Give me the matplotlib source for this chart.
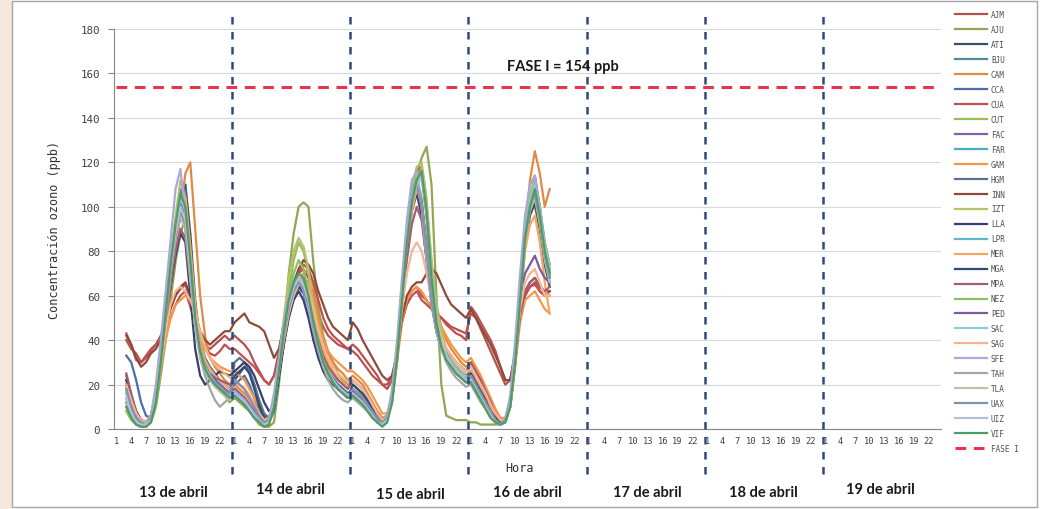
import numpy as np
import matplotlib
matplotlib.use("Agg")
import matplotlib.pyplot as plt
import matplotlib.transforms as mtransforms
from matplotlib.patches import Rectangle

n = np.nan

# hourly ozone (ppb), 13-16 abril, 24 values per day
AJM = [n, n, 43, 38, 31, 30, 33, 36, 38, 42, 48, 55, 60, 63, 65, 58, 50, 42, 38, 36, 38, 40, 42, 40,
       42, 40, 38, 35, 30, 26, 22, 20, 24, 35, 48, 58, 66, 70, 72, 68, 60, 52, 46, 42, 40, 38, 37, 36,
       38, 36, 33, 30, 27, 24, 20, 18, 22, 34, 50, 58, 62, 64, 60, 58, 55, 52, 50, 48, 46, 45, 44, 43,
       52, 50, 45, 40, 35, 30, 25, 20, 22, 35, 50, 60, 64, 66, 62, 60, 60, n, n, n, n, n, n, n]
AJU = [n, n, 10, 5, 2, 1, 1, 3, 10, 24, 40, 58, 75, 88, 95, 80, 55, 40, 30, 24, 20, 17, 15, 12,
       14, 12, 10, 8, 5, 2, 1, 1, 3, 20, 45, 70, 88, 100, 102, 100, 75, 55, 42, 35, 30, 25, 22, 20,
       20, 18, 15, 12, 8, 5, 3, 4, 12, 30, 55, 80, 100, 115, 122, 127, 110, 60, 20, 6, 5, 4, 4, 4,
       3, 3, 2, 2, 2, 2, 2, 3, 10, 30, 58, 85, 98, 100, 90, 78, 70, n, n, n, n, n, n, n]
ATI = [n, n, 18, 8, 3, 2, 2, 4, 14, 32, 52, 72, 90, 105, 110, 88, 58, 38, 28, 24, 22, 20, 18, 16,
       22, 25, 28, 26, 20, 12, 6, 4, 10, 25, 40, 52, 60, 64, 62, 55, 45, 36, 30, 26, 22, 20, 18, 16,
       18, 16, 14, 12, 8, 5, 3, 5, 14, 34, 60, 86, 104, 112, 114, 98, 68, 50, 40, 34, 30, 28, 26, 24,
       26, 22, 18, 14, 9, 5, 3, 4, 12, 34, 62, 88, 102, 106, 96, 80, 70, n, n, n, n, n, n, n]
BJU = [n, n, 12, 6, 3, 2, 2, 5, 16, 34, 54, 74, 92, 104, 98, 75, 52, 36, 28, 24, 21, 19, 17, 15,
       18, 16, 13, 10, 7, 4, 2, 4, 14, 30, 46, 58, 65, 68, 64, 56, 46, 36, 28, 24, 21, 18, 16, 14,
       16, 14, 12, 9, 6, 3, 2, 5, 15, 36, 64, 90, 106, 116, 118, 100, 72, 52, 42, 35, 30, 27, 24, 22,
       22, 18, 14, 10, 6, 3, 2, 4, 12, 33, 62, 90, 104, 112, 100, 84, 74, n, n, n, n, n, n, n]
CAM = [n, n, 20, 12, 6, 3, 2, 4, 12, 26, 44, 62, 80, 98, 115, 120, 90, 60, 42, 32, 28, 25, 22, 20,
       20, 18, 16, 13, 9, 5, 3, 4, 10, 24, 38, 50, 60, 66, 70, 72, 64, 50, 40, 34, 30, 27, 25, 22,
       24, 22, 20, 16, 12, 8, 5, 6, 14, 32, 58, 84, 104, 114, 118, 100, 75, 56, 46, 40, 36, 33, 30, 28,
       30, 26, 22, 17, 12, 7, 4, 4, 10, 30, 58, 88, 112, 125, 115, 100, 108, n, n, n, n, n, n, n]
CCA = [n, n, 33, 30, 22, 12, 6, 5, 12, 28, 48, 68, 86, 100, 108, 82, 56, 40, 32, 28, 25, 22, 20, 18,
       20, 22, 24, 20, 14, 8, 4, 3, 8, 22, 38, 52, 60, 64, 62, 56, 46, 37, 30, 26, 23, 20, 18, 16,
       17, 15, 13, 11, 8, 5, 3, 5, 14, 33, 58, 84, 102, 110, 100, 80, 60, 46, 38, 33, 30, 28, 26, 24,
       24, 20, 16, 12, 8, 5, 3, 4, 11, 30, 58, 86, 100, 108, 96, 80, 72, n, n, n, n, n, n, n]
CUA = [n, n, 40, 36, 34, 30, 32, 35, 38, 40, 44, 50, 56, 60, 62, 55, 48, 40, 36, 34, 33, 35, 38, 36,
       36, 34, 32, 30, 28, 25, 22, 20, 24, 32, 44, 55, 64, 70, 74, 72, 66, 58, 50, 45, 42, 40, 38, 36,
       35, 33, 30, 27, 24, 22, 20, 20, 24, 34, 48, 56, 60, 62, 58, 56, 54, 52, 50, 47, 45, 43, 42, 40,
       55, 52, 48, 44, 40, 35, 28, 22, 22, 34, 50, 60, 64, 65, 62, 60, 62, n, n, n, n, n, n, n]
CUT = [n, n, 8, 4, 2, 1, 1, 3, 10, 26, 46, 66, 84, 98, 92, 70, 48, 34, 27, 23, 20, 18, 16, 14,
       16, 14, 11, 8, 5, 3, 2, 3, 12, 28, 46, 62, 76, 84, 80, 70, 55, 42, 32, 26, 22, 19, 17, 15,
       15, 13, 11, 9, 6, 3, 2, 4, 13, 32, 58, 84, 104, 112, 102, 80, 58, 44, 36, 32, 29, 27, 25, 23,
       22, 18, 14, 10, 6, 3, 2, 3, 10, 30, 58, 86, 100, 106, 94, 78, 68, n, n, n, n, n, n, n]
FAC = [n, n, 14, 7, 3, 2, 2, 5, 16, 34, 55, 76, 94, 108, 100, 76, 52, 36, 28, 24, 21, 19, 17, 15,
       18, 16, 14, 11, 8, 5, 3, 4, 13, 28, 44, 56, 64, 68, 65, 58, 48, 38, 30, 25, 22, 19, 17, 15,
       16, 14, 12, 10, 7, 4, 2, 5, 15, 36, 62, 88, 104, 112, 115, 96, 66, 48, 38, 33, 30, 27, 25, 23,
       24, 20, 16, 12, 7, 4, 2, 4, 12, 34, 62, 90, 104, 114, 100, 82, 70, n, n, n, n, n, n, n]
FAR = [n, n, 16, 9, 4, 2, 2, 5, 15, 32, 52, 72, 90, 102, 96, 74, 50, 36, 28, 24, 21, 19, 17, 15,
       17, 15, 13, 10, 7, 4, 2, 4, 12, 27, 42, 54, 62, 66, 64, 58, 47, 37, 30, 25, 22, 19, 17, 15,
       15, 13, 11, 9, 6, 3, 2, 4, 14, 34, 60, 86, 104, 112, 100, 80, 58, 45, 37, 32, 29, 26, 24, 22,
       22, 18, 14, 10, 6, 3, 2, 4, 11, 32, 60, 86, 100, 106, 94, 78, 68, n, n, n, n, n, n, n]
GAM = [n, n, 22, 15, 8, 4, 3, 6, 14, 28, 40, 50, 56, 58, 60, 58, 50, 42, 36, 32, 30, 28, 27, 26,
       26, 24, 22, 18, 14, 9, 5, 5, 12, 26, 40, 52, 60, 66, 68, 66, 58, 48, 40, 35, 32, 30, 28, 26,
       26, 24, 22, 19, 15, 11, 7, 7, 14, 30, 48, 58, 62, 64, 62, 58, 55, 50, 46, 42, 38, 35, 32, 30,
       32, 28, 24, 19, 14, 9, 5, 5, 10, 28, 48, 58, 60, 62, 58, 54, 52, n, n, n, n, n, n, n]
HGM = [n, n, 24, 14, 7, 4, 3, 6, 16, 32, 50, 68, 84, 96, 90, 68, 46, 34, 27, 24, 22, 20, 18, 16,
       30, 32, 30, 26, 20, 13, 7, 5, 10, 24, 40, 54, 62, 66, 63, 56, 46, 36, 29, 25, 22, 19, 17, 15,
       18, 16, 14, 12, 9, 6, 4, 6, 15, 34, 58, 82, 100, 108, 98, 78, 58, 45, 38, 33, 30, 27, 25, 23,
       26, 22, 18, 14, 9, 5, 3, 4, 11, 31, 58, 84, 98, 104, 92, 76, 66, n, n, n, n, n, n, n]
INN = [n, n, 42, 38, 32, 28, 30, 34, 36, 40, 46, 54, 60, 64, 66, 60, 52, 44, 40, 38, 40, 42, 44, 44,
       48, 50, 52, 48, 47, 46, 44, 38, 32, 36, 46, 56, 66, 72, 76, 74, 70, 62, 56, 50, 46, 44, 42, 40,
       48, 45, 40, 36, 32, 28, 24, 22, 24, 34, 50, 60, 64, 66, 66, 70, 72, 70, 65, 60, 56, 54, 52, 50,
       54, 50, 46, 42, 38, 33, 28, 22, 22, 34, 52, 62, 66, 68, 64, 62, 62, n, n, n, n, n, n, n]
IZT = [n, n, 12, 6, 3, 2, 2, 4, 14, 32, 54, 76, 96, 112, 104, 78, 52, 36, 28, 24, 21, 19, 17, 15,
       16, 14, 12, 9, 6, 3, 2, 3, 12, 30, 50, 68, 80, 86, 82, 72, 56, 42, 32, 26, 22, 19, 17, 15,
       16, 14, 12, 9, 6, 3, 2, 4, 14, 34, 62, 90, 108, 118, 120, 104, 76, 56, 44, 36, 31, 28, 26, 24,
       22, 18, 14, 10, 6, 3, 2, 3, 10, 32, 62, 90, 106, 112, 100, 84, 74, n, n, n, n, n, n, n]
LLA = [n, n, 22, 14, 8, 4, 3, 5, 14, 30, 48, 64, 78, 88, 84, 60, 36, 24, 20, 22, 24, 26, 25, 24,
       26, 28, 30, 28, 24, 18, 12, 8, 10, 24, 38, 50, 58, 62, 58, 50, 40, 32, 26, 22, 20, 18, 16, 14,
       16, 14, 12, 10, 7, 4, 3, 5, 14, 32, 56, 80, 98, 106, 96, 76, 56, 44, 36, 32, 28, 26, 24, 22,
       24, 20, 16, 12, 8, 5, 3, 4, 11, 30, 56, 82, 96, 102, 90, 74, 64, n, n, n, n, n, n, n]
LPR = [n, n, 18, 10, 5, 3, 2, 5, 15, 32, 52, 72, 90, 104, 98, 74, 50, 35, 28, 24, 21, 19, 17, 15,
       18, 16, 14, 11, 8, 5, 3, 4, 12, 27, 43, 55, 63, 67, 64, 57, 47, 37, 29, 25, 22, 19, 17, 15,
       17, 15, 13, 10, 7, 4, 2, 5, 15, 36, 62, 88, 104, 112, 116, 98, 70, 50, 40, 34, 30, 27, 25, 23,
       23, 19, 15, 11, 7, 4, 2, 4, 12, 33, 61, 88, 102, 110, 98, 82, 72, n, n, n, n, n, n, n]
MER = [n, n, 18, 11, 5, 3, 2, 5, 14, 30, 48, 66, 82, 96, 104, 82, 56, 40, 31, 27, 24, 22, 20, 18,
       19, 17, 15, 12, 8, 5, 3, 4, 11, 26, 40, 52, 62, 68, 68, 64, 54, 44, 36, 30, 26, 23, 21, 19,
       20, 18, 16, 13, 9, 6, 4, 5, 13, 32, 56, 80, 98, 108, 102, 84, 64, 50, 42, 36, 33, 30, 28, 26,
       26, 22, 18, 14, 9, 5, 3, 4, 10, 30, 56, 80, 92, 96, 84, 66, 52, n, n, n, n, n, n, n]
MGA = [n, n, 20, 12, 6, 3, 2, 5, 14, 30, 50, 70, 88, 100, 94, 72, 48, 34, 26, 22, 20, 18, 16, 14,
       24, 26, 28, 25, 18, 10, 5, 4, 10, 24, 40, 52, 60, 64, 61, 54, 44, 35, 28, 24, 21, 18, 16, 14,
       20, 18, 16, 13, 9, 6, 4, 6, 15, 33, 58, 84, 102, 110, 100, 80, 58, 44, 36, 31, 28, 25, 23, 21,
       25, 21, 17, 13, 8, 5, 3, 4, 11, 31, 58, 86, 100, 106, 94, 78, 68, n, n, n, n, n, n, n]
MPA = [n, n, 25, 16, 8, 4, 3, 6, 16, 32, 50, 66, 80, 90, 86, 66, 46, 34, 28, 25, 23, 22, 21, 20,
       22, 20, 18, 15, 11, 7, 4, 5, 12, 26, 42, 54, 62, 66, 64, 58, 48, 40, 33, 28, 25, 22, 20, 18,
       22, 20, 18, 15, 11, 7, 4, 6, 14, 32, 54, 76, 92, 100, 94, 76, 58, 46, 40, 36, 33, 30, 28, 26,
       30, 26, 22, 17, 12, 7, 4, 4, 11, 30, 52, 62, 66, 68, 64, 62, 64, n, n, n, n, n, n, n]
NEZ = [n, n, 14, 8, 4, 2, 2, 4, 13, 30, 50, 70, 88, 100, 94, 72, 48, 34, 27, 23, 20, 18, 16, 14,
       16, 14, 12, 9, 6, 4, 2, 3, 12, 28, 46, 60, 70, 76, 72, 62, 50, 39, 31, 26, 22, 19, 17, 15,
       16, 14, 12, 9, 6, 3, 2, 4, 14, 34, 60, 86, 106, 114, 104, 82, 60, 46, 38, 33, 30, 27, 25, 23,
       22, 18, 14, 10, 6, 3, 2, 3, 11, 32, 60, 88, 102, 108, 96, 80, 70, n, n, n, n, n, n, n]
PED = [n, n, 20, 12, 6, 3, 2, 5, 14, 30, 50, 70, 88, 102, 96, 74, 50, 36, 28, 24, 22, 20, 18, 16,
       18, 16, 14, 11, 8, 5, 3, 4, 12, 26, 42, 54, 62, 66, 64, 57, 47, 37, 29, 25, 22, 19, 17, 15,
       17, 15, 13, 10, 7, 4, 2, 5, 15, 35, 60, 86, 104, 112, 102, 82, 60, 46, 38, 33, 30, 27, 25, 23,
       24, 20, 16, 12, 8, 4, 2, 4, 12, 33, 60, 70, 74, 78, 72, 68, 66, n, n, n, n, n, n, n]
SAC = [n, n, 16, 9, 4, 2, 2, 5, 15, 32, 52, 72, 90, 104, 98, 76, 52, 36, 28, 24, 21, 19, 17, 15,
       17, 15, 13, 10, 7, 4, 2, 4, 12, 27, 43, 55, 63, 67, 64, 57, 47, 37, 29, 25, 22, 19, 17, 15,
       16, 14, 12, 9, 6, 3, 2, 4, 14, 34, 61, 88, 104, 112, 115, 97, 68, 48, 39, 33, 30, 27, 25, 23,
       23, 19, 15, 11, 7, 4, 2, 4, 12, 33, 61, 88, 102, 110, 98, 82, 72, n, n, n, n, n, n, n]
SAG = [n, n, 20, 13, 7, 4, 3, 6, 14, 28, 44, 56, 62, 64, 62, 58, 52, 44, 37, 32, 29, 27, 25, 23,
       22, 20, 18, 15, 11, 7, 4, 5, 12, 26, 40, 52, 60, 65, 66, 62, 54, 45, 37, 32, 28, 25, 23, 21,
       22, 20, 18, 15, 11, 7, 4, 6, 14, 32, 54, 70, 80, 84, 80, 70, 58, 48, 41, 36, 33, 30, 28, 26,
       28, 24, 20, 16, 11, 7, 4, 4, 10, 30, 54, 66, 70, 72, 66, 60, 60, n, n, n, n, n, n, n]
SFE = [n, n, 14, 7, 3, 2, 2, 6, 20, 40, 62, 85, 108, 117, 96, 68, 46, 34, 27, 23, 21, 19, 17, 15,
       17, 15, 13, 10, 7, 4, 2, 5, 16, 32, 48, 60, 66, 68, 62, 54, 44, 35, 28, 24, 21, 18, 16, 14,
       16, 14, 12, 9, 6, 3, 2, 6, 18, 40, 68, 94, 112, 116, 100, 76, 56, 44, 36, 32, 29, 26, 24, 22,
       22, 18, 14, 10, 6, 3, 2, 5, 15, 40, 70, 96, 110, 114, 98, 80, 70, n, n, n, n, n, n, n]
TAH = [n, n, 12, 6, 3, 2, 2, 4, 14, 32, 52, 72, 88, 98, 92, 70, 46, 32, 24, 18, 13, 10, 12, 14,
       16, 14, 12, 9, 6, 3, 2, 3, 12, 28, 44, 56, 64, 68, 66, 60, 48, 37, 28, 22, 18, 15, 13, 12,
       14, 12, 10, 8, 5, 3, 2, 4, 14, 34, 60, 86, 102, 110, 113, 96, 66, 46, 36, 30, 26, 23, 21, 19,
       20, 16, 12, 9, 5, 3, 2, 3, 11, 32, 60, 86, 100, 106, 94, 78, 68, n, n, n, n, n, n, n]
TLA = [n, n, 10, 5, 2, 1, 1, 4, 13, 30, 50, 70, 86, 96, 90, 68, 46, 33, 26, 22, 19, 17, 15, 13,
       15, 13, 11, 8, 5, 3, 2, 3, 11, 27, 43, 55, 62, 66, 64, 58, 47, 37, 29, 24, 21, 18, 16, 14,
       15, 13, 11, 8, 5, 3, 2, 4, 13, 33, 58, 84, 102, 110, 100, 80, 58, 44, 36, 31, 28, 25, 23, 21,
       21, 17, 13, 9, 5, 3, 2, 3, 10, 31, 58, 84, 98, 104, 92, 76, 66, n, n, n, n, n, n, n]
UAX = [n, n, 18, 10, 5, 3, 2, 5, 14, 30, 50, 70, 86, 98, 92, 70, 48, 34, 27, 23, 21, 19, 17, 16,
       22, 20, 18, 14, 10, 6, 3, 4, 11, 26, 42, 54, 62, 66, 63, 56, 46, 36, 29, 25, 22, 19, 17, 15,
       18, 16, 14, 11, 8, 5, 3, 5, 14, 33, 58, 84, 102, 110, 100, 80, 58, 45, 37, 32, 29, 26, 24, 22,
       24, 20, 16, 12, 8, 4, 2, 4, 11, 32, 58, 86, 100, 106, 94, 78, 68, n, n, n, n, n, n, n]
UIZ = [n, n, 14, 7, 3, 2, 2, 4, 14, 32, 52, 72, 88, 100, 94, 72, 48, 34, 27, 23, 20, 18, 16, 14,
       16, 14, 12, 9, 6, 3, 2, 3, 12, 28, 44, 56, 64, 68, 65, 58, 47, 37, 29, 25, 22, 19, 17, 15,
       16, 14, 12, 9, 6, 3, 2, 4, 14, 34, 60, 86, 102, 110, 114, 98, 70, 50, 40, 33, 29, 26, 24, 22,
       22, 18, 14, 10, 6, 3, 2, 3, 11, 32, 60, 86, 100, 108, 96, 80, 70, n, n, n, n, n, n, n]
VIF = [n, n, 10, 5, 2, 1, 1, 3, 12, 30, 52, 74, 92, 106, 100, 76, 50, 35, 27, 23, 20, 18, 16, 14,
       15, 13, 11, 8, 5, 3, 1, 2, 10, 26, 44, 58, 66, 70, 68, 60, 48, 38, 30, 25, 21, 18, 16, 14,
       15, 13, 11, 8, 5, 3, 1, 3, 12, 32, 58, 84, 102, 112, 116, 98, 68, 48, 37, 31, 28, 25, 23, 21,
       21, 17, 13, 9, 5, 3, 2, 3, 10, 30, 58, 86, 100, 108, 96, 80, 70, n, n, n, n, n, n, n]

stations = ["AJM", "AJU", "ATI", "BJU", "CAM", "CCA", "CUA", "CUT", "FAC", "FAR", "GAM", "HGM",
            "INN", "IZT", "LLA", "LPR", "MER", "MGA", "MPA", "NEZ", "PED", "SAC", "SAG", "SFE",
            "TAH", "TLA", "UAX", "UIZ", "VIF"]
series = [AJM, AJU, ATI, BJU, CAM, CCA, CUA, CUT, FAC, FAR, GAM, HGM, INN, IZT, LLA, LPR, MER,
          MGA, MPA, NEZ, PED, SAC, SAG, SFE, TAH, TLA, UAX, UIZ, VIF]
colors = ["#B5524F", "#8FA854", "#3D4B6C", "#4F8A99", "#E08A44", "#4A70A6", "#C0504D", "#9BBB59",
          "#8064A2", "#4BACC6", "#F79646", "#5B7393", "#8C4B3A", "#B3C26B", "#393E6A", "#62B4D3",
          "#F7A660", "#2C4D75", "#A25C74", "#8DC063", "#7A5C9E", "#8FCADB", "#F4B590", "#A8A8DB",
          "#A5A5A5", "#BCC3A6", "#8593AA", "#B2C1D8", "#4E9B64"]

days = ["13 de abril", "14 de abril", "15 de abril", "16 de abril",
        "17 de abril", "18 de abril", "19 de abril"]
fase_1 = 154
n_hours = 24 * len(days)

fig = plt.figure(figsize=(10.4, 5.1), dpi=100)
fig.patch.set_facecolor("white")
# slide background strip and chart border
fig.patches.append(Rectangle((0, 0), 12 / 1040, 1, transform=fig.transFigure,
                             facecolor="#F4E8DC", edgecolor="none", zorder=-2))
fig.patches.append(Rectangle((12 / 1040, 2 / 510), 1025 / 1040, 506 / 510, transform=fig.transFigure,
                             facecolor="none", edgecolor="#A6A6A6", lw=1.0, zorder=-1))

ax = fig.add_axes([114 / 1040, 80 / 510, 827 / 1040, 400 / 510])
x = np.arange(1, n_hours + 1)

for name, vals, c in zip(stations, series, colors):
    y = np.full(n_hours, np.nan)
    y[:len(vals)] = np.array(vals, dtype=float)
    ax.plot(x, y, color=c, lw=1.6, label=name)

ax.plot(x, np.full(n_hours, fase_1), color="#E8324F", lw=2.2, ls=(0, (3.5, 2.5)), label="FASE I")

# day separators, drawn past the plot area like the original shapes
trans = mtransforms.blended_transform_factory(ax.transData, ax.transAxes)
for d in range(1, len(days)):
    ax.plot([24 * d + 0.5] * 2, [-0.1125, 1.045], transform=trans, clip_on=False,
            color="#2E4A78", lw=1.8, ls=(0, (3, 3)), zorder=5)

ax.set_xlim(0.5, n_hours + 0.5)
ax.set_ylim(0, 180)
ax.set_yticks(np.arange(0, 181, 20))
ticks = np.arange(1, n_hours + 1, 3)
ax.set_xticks(ticks)
ax.set_xticklabels([str((t - 1) % 24 + 1) for t in ticks], fontsize=6.3,
                   family="DejaVu Sans Mono", color="#404040")
for lab in ax.get_yticklabels():
    lab.set_fontsize(7.8)
    lab.set_family("DejaVu Sans Mono")
    lab.set_color("#404040")
ax.tick_params(axis="x", length=0, pad=5)
ax.tick_params(axis="y", length=4, color="#868686", pad=6)
ax.grid(axis="y", color="#D9D9D9", lw=0.8)
ax.set_axisbelow(True)
for s in ["top", "right"]:
    ax.spines[s].set_visible(False)
for s in ["left", "bottom"]:
    ax.spines[s].set_color("#868686")

ax.set_ylabel("Concentración ozono (ppb)", family="DejaVu Sans Mono", fontsize=8.5,
              color="#303030", labelpad=14)
fig.text(520 / 1040, 1 - 469 / 510, "Hora", family="DejaVu Sans Mono", fontsize=8.5,
         color="#303030", ha="center", va="center")

day_x = [173, 290, 410, 527, 647, 763, 880]
day_y = [493, 490, 495, 493, 493, 493, 490]
for lbl, dx, dy in zip(days, day_x, day_y):
    fig.text(dx / 1040, 1 - dy / 510, lbl, family="Lato", weight="bold", fontsize=10.5,
             color="#1A1A1A", ha="center", va="center")

fig.text(563 / 1040, 1 - 67 / 510, "FASE I = 154 ppb", family="Lato", weight="bold",
         fontsize=10.5, color="#1A1A1A", ha="center", va="center")

leg = fig.legend(loc="upper left", bbox_to_anchor=(955 / 1040, 1 - 11 / 510), frameon=False,
                 prop={"family": "DejaVu Sans Mono", "size": 5.5}, handlelength=4.2,
                 handletextpad=0.5, labelspacing=0.78, borderaxespad=0, borderpad=0)
for t in leg.get_texts():
    t.set_color("#505050")

fig.savefig("out.png", dpi=100)
